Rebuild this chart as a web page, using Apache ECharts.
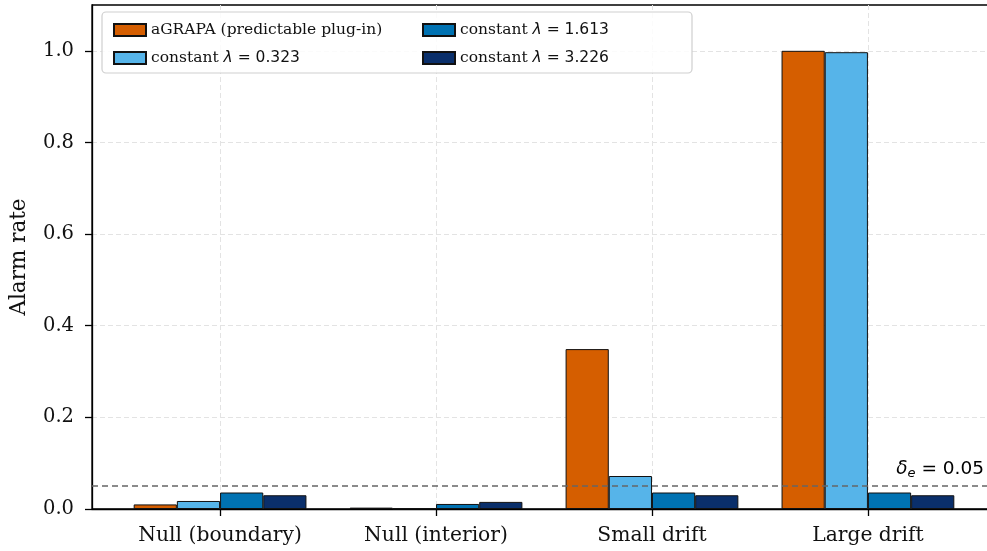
<!DOCTYPE html>
<html><head><meta charset="utf-8">
<script src="https://cdn.jsdelivr.net/npm/echarts@6/dist/echarts.min.js"></script>
<style>html,body{margin:0;padding:0;background:#fff}#c{width:987px;height:551px}</style>
</head><body><div id="c"></div>
<script>
const categories = ['Null (boundary)', 'Null (interior)', 'Small drift', 'Large drift'];
const seriesNames = ['aGRAPA (predictable plug-in)', 'constant λ = 0.323', 'constant λ = 1.613', 'constant λ = 3.226'];
const aGRAPA = [0.010, 0.003, 0.349, 1.000];
const lam0323 = [0.0175, 0.001, 0.072, 0.997];
const lam1613 = [0.036, 0.011, 0.036, 0.036];
const lam3226 = [0.030, 0.0155, 0.030, 0.030];
const yTicks = [0, 0.2, 0.4, 0.6, 0.8, 1.0];
const threshold = 0.05;
const colors = ['#D55E00', '#56B4E9', '#0072B2', '#0A2F6B'];
const values = [aGRAPA, lam0323, lam1613, lam3226];

const serif = 'DejaVu Serif';
const sans = 'DejaVu Sans';
const chart = echarts.init(document.getElementById('c'));
const series = values.map((vals, i) => ({
  name: seriesNames[i], type: 'bar', barWidth: '20%', barGap: '0%',
  data: vals.map((v, k) => [k, v]),
  itemStyle: { color: colors[i], borderColor: '#111', borderWidth: 1 },
  emphasis: { disabled: true }, animation: false
}));
series[0].markLine = {
  silent: true, symbol: 'none', animation: false,
  lineStyle: { color: '#666', type: [6, 4], width: 1.5 },
  label: { show: false },
  data: [{ yAxis: threshold }]
};
const FS = 15.5;
const legText = {
  fontFamily: serif, fontSize: FS, color: '#111',
  rich: { s: { fontFamily: serif, fontSize: FS, color: '#111' },
          l: { fontFamily: sans, fontStyle: 'italic', fontSize: FS, color: '#111' },
          m: { fontFamily: sans, fontSize: FS, color: '#111' } }
};
const legFmt = n => {
  if (n.indexOf('constant ') === 0) {
    const rest = n.slice(9);
    return '{s|constant }{l|λ}{m|' + rest.slice(1) + '}';
  }
  return n;
};
const gridLine = { show: true, lineStyle: { color: '#e3e3e3', type: [5, 3], width: 1 } };
chart.setOption({
  animation: false,
  backgroundColor: '#fff',
  grid: { left: 92, top: 5, width: 904, bottom: 42, outerBoundsMode: 'none', containLabel: false,
          show: true, borderColor: '#000', borderWidth: 1.3, backgroundColor: 'transparent' },
  xAxis: [{
    type: 'value', min: -0.593, max: 3.593,
    axisLine: { show: true, onZero: false, lineStyle: { color: '#000', width: 1.3 } },
    axisTick: { show: true, customValues: [0, 1, 2, 3], length: 7, lineStyle: { color: '#000', width: 1.3 } },
    axisLabel: { customValues: [0, 1, 2, 3], formatter: v => categories[Math.round(v)], fontFamily: serif, fontSize: 20.3, color: '#111', margin: 17 },
    splitLine: gridLine
  }],
  yAxis: {
    type: 'value', min: 0, max: 1.1,
    name: 'Alarm rate', nameLocation: 'middle', nameGap: 62,
    nameTextStyle: { fontFamily: serif, fontSize: 21.5, color: '#111' },
    axisLine: { show: true, onZero: false, lineStyle: { color: '#000', width: 1.3 } },
    axisTick: { show: true, customValues: yTicks, length: 7, lineStyle: { color: '#000', width: 1.3 } },
    axisLabel: { customValues: yTicks, formatter: v => v.toFixed(1), fontFamily: serif, fontSize: 19.5, color: '#111', margin: 18 },
    splitLine: gridLine
  },
  legend: [
    { orient: 'vertical', left: 108, top: 17, data: [seriesNames[0], seriesNames[1]], itemWidth: 32, itemHeight: 12, itemGap: 12,
      icon: 'rect', formatter: legFmt, textStyle: legText, selectedMode: false, z: 5 },
    { orient: 'vertical', left: 417, top: 17, data: [seriesNames[2], seriesNames[3]], itemWidth: 32, itemHeight: 12, itemGap: 12,
      icon: 'rect', formatter: legFmt, textStyle: legText, selectedMode: false, z: 5 }
  ],
  graphic: [
    { type: 'rect', z: 4, shape: { x: 102, y: 12, width: 590, height: 61, r: 4 },
      style: { fill: 'rgba(255,255,255,0.85)', stroke: '#cfcfcf', lineWidth: 1.2 } },
    { type: 'text', z: 5, right: 3, top: 460,
      style: { text: '{d|δ}{e|e}{m| = 0.05}', align: 'right',
        rich: { d: { fontFamily: sans, fontStyle: 'italic', fontSize: 18.5, color: '#444' },
                e: { fontFamily: sans, fontStyle: 'italic', fontSize: 13, color: '#444', verticalAlign: 'bottom', padding: [9, 0, 0, 0] },
                m: { fontFamily: sans, fontSize: 18.5, color: '#444' } } } }
  ],
  series: series
});
</script></body></html>
